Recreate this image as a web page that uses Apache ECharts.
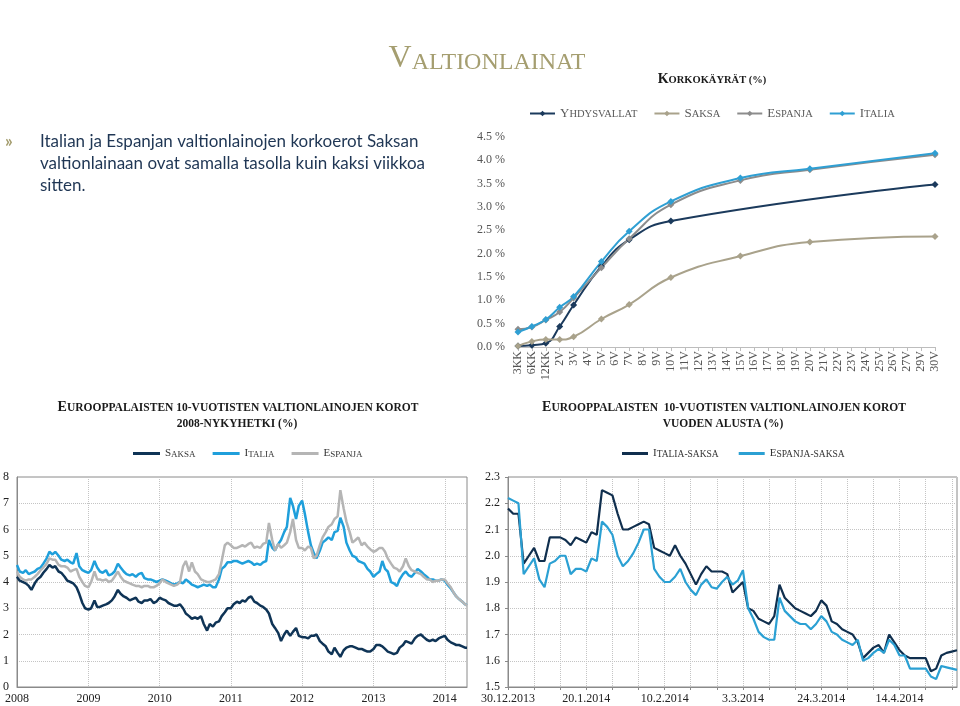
<!DOCTYPE html>
<html><head><meta charset="utf-8">
<script src="https://cdn.jsdelivr.net/npm/echarts@6/dist/echarts.min.js"></script>
<style>html,body{margin:0;padding:0;background:#fff}#c{width:960px;height:706px}</style>
</head><body><div id="c"></div>
<script>
// ---------- Korkokäyrät (yield curves) ----------
const curveCats = ['3KK','6KK','12KK','2V','3V','4V','5V','6V','7V','8V','9V','10V','11V','12V','13V','14V','15V','16V','17V','18V','19V','20V','21V','22V','23V','24V','25V','26V','27V','29V','30V'];
const curveTenors = ['3KK','6KK','12KK','2V','3V','5V','7V','10V','15V','20V','30V'];
const curveUSA = [0.02,0.04,0.08,0.44,0.90,1.73,2.30,2.70,null,null,3.48];
const curveDE  = [0.02,0.12,0.16,0.16,0.22,0.60,0.91,1.49,1.95,2.25,2.37];
const curveES  = [0.38,0.43,0.58,0.75,1.05,1.70,2.32,3.05,3.57,3.80,4.12];
const curveIT  = [0.32,0.44,0.59,0.85,1.08,1.83,2.48,3.12,3.62,3.82,4.15];

// ---------- 10y yields 2008 - now (semi-monthly readings) ----------
const yieldDates = [];
for (let k = 0; k < 152; k++) {
  const y = 2008 + Math.floor(k / 24), m = Math.floor((k % 24) / 2) + 1, d = (k % 2 === 0) ? '01' : '15';
  yieldDates.push(y + '-' + (m < 10 ? '0' + m : m) + '-' + d);
}
yieldDates.push('2014-04-25');
const yieldDE = [
 4.2,4.05,4.0,3.95,3.85,3.7,3.95,4.1,4.2,4.35,4.5,4.65,
 4.55,4.6,4.4,4.35,4.2,4.05,4.0,3.95,3.8,3.55,3.2,3.0,
 2.95,3.0,3.3,3.05,3.05,3.1,3.15,3.2,3.3,3.45,3.7,3.55,
 3.45,3.4,3.3,3.35,3.4,3.25,3.2,3.3,3.3,3.35,3.2,3.25,
 3.4,3.35,3.3,3.2,3.15,3.1,3.1,3.15,3.0,2.8,2.7,2.6,
 2.65,2.6,2.7,2.4,2.15,2.4,2.3,2.45,2.5,2.7,2.85,3.0,
 3.0,3.15,3.25,3.2,3.3,3.25,3.4,3.45,3.25,3.2,3.1,3.05,
 2.95,2.8,2.4,2.25,2.05,1.75,2.0,2.15,1.95,2.1,2.25,1.95,
 1.9,1.9,1.85,1.95,1.95,2.0,1.75,1.65,1.55,1.35,1.25,1.5,
 1.3,1.15,1.4,1.5,1.55,1.55,1.5,1.45,1.45,1.4,1.35,1.35,
 1.45,1.6,1.6,1.55,1.45,1.35,1.3,1.25,1.3,1.5,1.6,1.75,
 1.7,1.65,1.85,1.95,2.0,1.9,1.8,1.75,1.8,1.75,1.85,1.9,
 1.95,1.8,1.7,1.65,1.6,1.6,1.55,1.5,1.5];
const yieldIT = [
 4.65,4.4,4.35,4.45,4.3,4.35,4.4,4.5,4.55,4.7,4.9,5.15,
 5.05,5.15,5.0,4.85,4.8,4.85,4.75,4.7,5.1,4.6,4.45,4.4,
 4.35,4.45,4.8,4.55,4.4,4.35,4.45,4.25,4.3,4.4,4.7,4.55,
 4.4,4.3,4.25,4.3,4.2,4.3,4.35,4.15,4.1,4.1,4.05,4.0,
 4.05,4.1,4.05,4.0,3.95,3.9,3.95,4.0,3.95,4.1,4.0,3.9,
 3.85,3.8,3.85,3.9,3.85,3.9,3.8,3.8,4.1,4.5,4.6,4.75,
 4.75,4.8,4.8,4.75,4.7,4.75,4.8,4.75,4.65,4.7,4.65,4.75,
 4.8,5.6,5.3,5.2,5.45,5.6,5.9,6.1,7.2,6.9,6.4,6.9,
 7.1,6.6,5.9,5.4,5.1,4.9,5.2,5.5,5.6,5.7,5.6,5.9,
 5.95,6.45,6.1,5.5,5.2,5.0,4.95,4.8,4.75,4.7,4.5,4.4,
 4.2,4.3,4.4,4.8,4.5,4.4,4.0,3.95,3.85,4.1,4.3,4.4,
 4.25,4.2,4.35,4.5,4.4,4.3,4.2,4.1,4.1,4.05,4.05,4.1,
 4.05,3.9,3.75,3.6,3.45,3.35,3.25,3.15,3.12];
const yieldES = [
 4.4,4.2,4.1,4.05,4.1,4.1,4.2,4.3,4.45,4.55,4.7,4.9,
 4.85,4.85,4.65,4.6,4.6,4.55,4.4,4.45,4.5,4.2,4.0,3.85,
 3.8,4.0,4.4,4.1,4.1,4.05,4.1,4.0,4.05,4.2,4.4,4.2,
 4.05,4.0,3.95,3.9,3.85,3.85,3.8,3.85,3.85,3.8,3.8,3.85,
 3.95,4.1,4.0,3.95,3.9,3.85,3.9,4.0,4.6,4.8,4.4,4.75,
 4.4,4.3,4.1,4.05,4.0,4.0,4.05,4.1,4.3,4.8,5.4,5.5,
 5.4,5.3,5.3,5.35,5.4,5.35,5.45,5.5,5.3,5.35,5.3,5.45,
 5.5,6.25,5.6,5.2,5.45,5.3,5.4,5.5,5.9,6.4,5.6,5.3,
 5.3,5.2,5.35,5.3,4.9,5.0,5.4,5.7,5.9,6.1,6.2,6.4,
 6.5,7.5,6.8,6.3,5.9,5.5,5.6,5.7,5.4,5.5,5.35,5.25,
 5.15,5.2,5.3,5.3,5.15,4.9,4.7,4.55,4.5,4.4,4.6,4.9,
 4.6,4.45,4.4,4.35,4.3,4.2,4.1,4.1,4.0,4.05,4.05,4.1,
 4.1,3.95,3.8,3.6,3.45,3.35,3.25,3.15,3.1];

// ---------- Spreads since start of year (daily, weekdays) ----------
const spreadDates = [];
(function () {
  let t = Date.UTC(2013, 11, 30);
  while (spreadDates.length < 87) {
    const d = new Date(t), wd = d.getUTCDay();
    if (wd !== 0 && wd !== 6) spreadDates.push(d.getUTCDate() + '.' + (d.getUTCMonth() + 1) + '.' + d.getUTCFullYear());
    t += 86400000;
  }
})();
const spreadIT = [2.18,2.16,2.16,1.97,2.00,2.03,1.98,1.98,2.07,2.07,2.07,2.06,2.04,2.07,2.06,2.05,2.09,2.08,2.25,2.24,
 2.23,2.16,2.10,2.10,2.11,2.12,2.13,2.12,2.03,2.02,2.01,2.00,2.04,2.00,1.97,1.93,1.89,1.93,1.96,1.94,
 1.94,1.94,1.93,1.86,1.88,1.90,1.80,1.79,1.76,1.75,1.74,1.77,1.89,1.84,1.82,1.80,1.79,1.78,1.77,1.79,
 1.83,1.81,1.75,1.74,1.72,1.71,1.70,1.67,1.61,1.63,1.65,1.66,1.63,1.70,1.67,1.64,1.62,1.61,1.61,1.61,
 1.61,1.56,1.57,1.62,1.63,1.635,1.64];
const spreadES = [2.22,2.21,2.20,1.93,1.96,1.99,1.91,1.88,1.97,1.98,2.00,2.00,1.93,1.95,1.95,1.94,1.99,1.98,2.13,2.11,
 2.08,2.00,1.96,1.98,2.01,2.05,2.10,2.10,1.95,1.92,1.90,1.90,1.92,1.95,1.90,1.87,1.85,1.89,1.91,1.88,
 1.875,1.90,1.92,1.89,1.905,1.945,1.80,1.76,1.71,1.69,1.68,1.68,1.84,1.79,1.77,1.75,1.74,1.74,1.72,1.74,
 1.77,1.75,1.71,1.70,1.68,1.67,1.66,1.68,1.60,1.61,1.63,1.645,1.63,1.68,1.66,1.62,1.62,1.57,1.57,1.57,
 1.57,1.54,1.53,1.58,1.575,1.57,1.565];

// ---------- styling ----------
const serif = "'Liberation Serif', 'DejaVu Serif', serif";
const sans = "Lato, 'Open Sans', sans-serif";
const gold = '#a59e70';
const C = { usa:'#1b3a5c', de:'#a9a28b', es:'#8c8c8c', it:'#2f9fd3',
            de2:'#0f3456', it2:'#1f9fdb', es2:'#b5b5b5', sp1:'#102f4e', sp2:'#2ba0d3' };

function smallCaps(name) {
  const t = name.trim().toUpperCase();
  return '{b|' + t[0] + '}{s|' + t.slice(1) + '}';
}
function capsRich(big, small, color, weight) {
  return {
    b: { fontSize: big, fontFamily: serif, color: color, fill: color, fontWeight: weight || 'normal', verticalAlign: 'bottom', lineHeight: big },
    s: { fontSize: small, fontFamily: serif, color: color, fill: color, fontWeight: weight || 'normal', verticalAlign: 'bottom', lineHeight: big }
  };
}
function txt(x, y, text, rich, align) {
  return { type: 'text', x: x, y: y, style: { text: text, rich: rich, align: align || 'center', verticalAlign: 'middle' } };
}

const chart = echarts.init(document.getElementById('c'), null, { width: 960, height: 706 });

const gridLine = { show: true, lineStyle: { color: '#c4c4c4', type: 'dotted', width: 1 } };

const option = {
  animation: false,
  backgroundColor: '#ffffff',
  textStyle: { fontFamily: serif },
  graphic: { elements: [
    txt(487, 59, '{b|V}{s|ALTIONLAINAT}', capsRich(32, 24, gold)),
    txt(712, 79, '{b|K}{s|ORKOKÄYRÄT (%)}', capsRich(14, 10.5, '#1a1a1a', 'bold')),
    { type: 'text', x: 5, y: 142, style: { text: '»', fill: gold, font: 'bold 17px ' + sans, verticalAlign: 'middle', align: 'left' } },
    { type: 'text', x: 40, y: 142, style: { text: 'Italian ja Espanjan valtionlainojen korkoerot Saksan', fill: '#1f3654', font: '17px ' + sans, verticalAlign: 'middle', align: 'left' } },
    { type: 'text', x: 40, y: 164, style: { text: 'valtionlainaan ovat samalla tasolla kuin kaksi viikkoa', fill: '#1f3654', font: '17px ' + sans, verticalAlign: 'middle', align: 'left' } },
    { type: 'text', x: 40, y: 186, style: { text: 'sitten.', fill: '#1f3654', font: '17px ' + sans, verticalAlign: 'middle', align: 'left' } },
    txt(238, 407, '{b|E}{s|UROOPPALAISTEN 10-VUOTISTEN VALTIONLAINOJEN KOROT}', capsRich(14, 11.5, '#1a1a1a', 'bold')),
    txt(237, 423, '{s|2008-NYKYHETKI (%)}', capsRich(14, 11.5, '#1a1a1a', 'bold')),
    txt(724, 407, '{b|E}{s|UROOPPALAISTEN  10-VUOTISTEN VALTIONLAINOJEN KOROT}', capsRich(14, 11.5, '#1a1a1a', 'bold')),
    txt(723, 423, '{s|VUODEN ALUSTA (%)}', capsRich(14, 11.5, '#1a1a1a', 'bold'))
  ]},
  legend: [
    { data: ['Yhdysvallat', 'Saksa', 'Espanja', 'Italia'], left: 524, top: 102, itemWidth: 25, itemHeight: 7, itemGap: 16,
      formatter: smallCaps, textStyle: { color: '#5a5a5a', rich: capsRich(13, 10.5, '#5a5a5a') } },
    { data: ['Saksa ', 'Italia ', 'Espanja '], left: 128, top: 443, icon: 'rect', itemWidth: 27, itemHeight: 3, itemGap: 17,
      formatter: smallCaps, textStyle: { color: '#333', rich: capsRich(11, 9, '#333') } },
    { data: ['Italia-Saksa', 'Espanja-Saksa'], left: 617, top: 443, icon: 'rect', itemWidth: 26, itemHeight: 3, itemGap: 20,
      formatter: smallCaps, textStyle: { color: '#333', rich: capsRich(11, 9.5, '#333') } }
  ],
  grid: [
    { left: 518, top: 137, width: 417, height: 210 },
    { left: 17, top: 477, width: 450, height: 210, show: true, borderColor: '#8a8a8a', borderWidth: 1 },
    { left: 508, top: 477, width: 449, height: 210, show: true, borderColor: '#8a8a8a', borderWidth: 1 }
  ],
  xAxis: [
    { gridIndex: 0, type: 'category', data: curveCats, boundaryGap: false,
      axisLine: { lineStyle: { color: '#bdbdbd' } },
      axisTick: { show: true, length: 4, interval: 0, lineStyle: { color: '#bdbdbd' } },
      axisLabel: { rotate: 90, interval: 0, fontSize: 12, color: '#555', fontFamily: serif, margin: 4 },
      splitLine: { show: false } },
    { gridIndex: 1, type: 'time', min: '2008-01-01', max: '2014-04-25', splitNumber: 6,
      axisLine: { lineStyle: { color: '#8a8a8a' } },
      axisTick: { show: false },
      axisLabel: { formatter: '{yyyy}', fontSize: 12, color: '#222', fontFamily: serif, margin: 6, showMinLabel: true, hideOverlap: false },
      splitLine: gridLine },
    { gridIndex: 2, type: 'category', data: spreadDates, boundaryGap: false,
      axisLine: { lineStyle: { color: '#8a8a8a' } },
      axisTick: { show: true, length: 3, interval: 4, lineStyle: { color: '#8a8a8a' } },
      axisLabel: { interval: 14, fontSize: 12, color: '#222', fontFamily: serif, margin: 6 },
      splitLine: { show: true, interval: 4, lineStyle: { color: '#c4c4c4', type: 'dotted' } } }
  ],
  yAxis: [
    { gridIndex: 0, type: 'value', min: 0, max: 4.5, interval: 0.5,
      axisLine: { show: false }, axisTick: { show: false }, splitLine: { show: false },
      axisLabel: { formatter: v => v.toFixed(1) + ' %', fontSize: 12, color: '#555', fontFamily: serif, margin: 13 } },
    { gridIndex: 1, type: 'value', min: 0, max: 8, interval: 1,
      axisLine: { show: true, lineStyle: { color: '#8a8a8a' } }, axisTick: { show: false },
      axisLabel: { fontSize: 12, color: '#222', fontFamily: serif, margin: 8 },
      splitLine: gridLine },
    { gridIndex: 2, type: 'value', min: 1.5, max: 2.3, interval: 0.1,
      axisLine: { show: true, lineStyle: { color: '#8a8a8a' } }, axisTick: { show: true, length: 3, lineStyle: { color: '#8a8a8a' } },
      axisLabel: { formatter: v => v.toFixed(1), fontSize: 12, color: '#222', fontFamily: serif, margin: 8 },
      splitLine: gridLine }
  ],
  series: []
};

function curveSeries(name, vals, color) {
  const data = [];
  curveTenors.forEach((t, i) => { if (vals[i] !== null) data.push([t, vals[i]]); });
  return { name: name, type: 'line', xAxisIndex: 0, yAxisIndex: 0, data: data, smooth: true,
    symbol: 'diamond', symbolSize: 7, showSymbol: true, color: color,
    itemStyle: { color: color }, lineStyle: { color: color, width: 2 } };
}
option.series.push(curveSeries('Yhdysvallat', curveUSA, C.usa));
option.series.push(curveSeries('Saksa', curveDE, C.de));
option.series.push(curveSeries('Espanja', curveES, C.es));
option.series.push(curveSeries('Italia', curveIT, C.it));

function histSeries(name, vals, color) {
  return { name: name, type: 'line', xAxisIndex: 1, yAxisIndex: 1, symbol: 'none', showSymbol: false,
    data: yieldDates.map((d, i) => [d, vals[i]]), color: color,
    itemStyle: { color: color }, lineStyle: { color: color, width: 2.5 } };
}
option.series.push(histSeries('Saksa ', yieldDE, C.de2));
option.series.push(histSeries('Italia ', yieldIT, C.it2));
option.series.push(histSeries('Espanja ', yieldES, C.es2));

function spreadSeries(name, vals, color) {
  return { name: name, type: 'line', xAxisIndex: 2, yAxisIndex: 2, symbol: 'none', showSymbol: false,
    data: vals, color: color, itemStyle: { color: color }, lineStyle: { color: color, width: 2.2 } };
}
option.series.push(spreadSeries('Italia-Saksa', spreadIT, C.sp1));
option.series.push(spreadSeries('Espanja-Saksa', spreadES, C.sp2));

chart.setOption(option);
</script>
</body></html>
